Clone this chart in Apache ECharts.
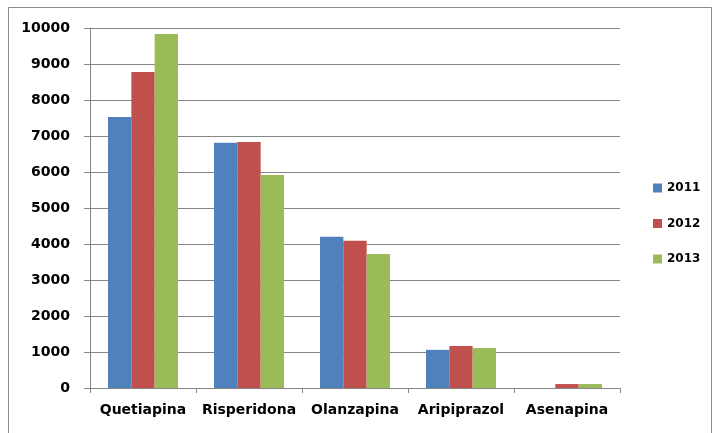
<!DOCTYPE html>
<html>
<head>
<meta charset="utf-8">
<script src="https://cdn.jsdelivr.net/npm/echarts@6/dist/echarts.min.js"></script>
<style>
  html, body { margin: 0; padding: 0; background: #fff; }
  #chart { width: 715px; height: 433px; }
</style>
</head>
<body>
<div id="chart"></div>
<script>
// Antipsychotic prescriptions per drug, by year
const categories = ['Quetiapina', 'Risperidona', 'Olanzapina', 'Aripiprazol', 'Asenapina'];
const years = ['2011', '2012', '2013'];
const values2011 = [7530, 6810, 4200, 1060, 0];
const values2012 = [8780, 6830, 4090, 1170, 110];
const values2013 = [9830, 5920, 3720, 1110, 110];
const yTicks = { min: 0, max: 10000, interval: 1000 };

const colors = ['#4F81BD', '#C0504D', '#9BBB59'];
const seriesValues = [values2011, values2012, values2013];
const axisFont = { fontFamily: 'DejaVu Sans', fontWeight: 'bold', fontSize: 14, color: '#000' };
const legendFont = { fontFamily: 'DejaVu Sans', fontWeight: 'bold', fontSize: 12, color: '#000' };

const chart = echarts.init(document.getElementById('chart'), null, { renderer: 'canvas' });
chart.setOption({
  animation: false,
  backgroundColor: '#fff',
  color: colors,
  graphic: [{
    type: 'rect',
    shape: { x: 8.5, y: 7.5, width: 703, height: 440 },
    style: { fill: 'none', stroke: '#8c8c8c', lineWidth: 1 },
    silent: true
  }],
  grid: { left: 90, right: 95, top: 28, bottom: 45, containLabel: false },
  legend: {
    orient: 'vertical',
    left: 648,
    top: 177,
    itemWidth: 9,
    itemHeight: 9,
    itemGap: 23.5,
    icon: 'rect',
    textStyle: legendFont,
    data: years
  },
  xAxis: {
    type: 'category',
    data: categories,
    axisLine: { lineStyle: { color: '#868686', width: 1 } },
    axisTick: { show: true, length: 5, lineStyle: { color: '#868686' } },
    axisLabel: Object.assign({}, axisFont, { margin: 15, interval: 0 }),
    splitLine: { show: false }
  },
  yAxis: {
    type: 'value',
    min: yTicks.min,
    max: yTicks.max,
    interval: yTicks.interval,
    axisLine: { show: true, lineStyle: { color: '#868686', width: 1 } },
    axisTick: { show: true, length: 6, lineStyle: { color: '#868686' } },
    axisLabel: Object.assign({}, axisFont, { margin: 20, formatter: v => String(v) }),
    splitLine: { show: true, lineStyle: { color: '#868686', width: 1 } }
  },
  series: years.map((y, i) => ({
    name: y,
    type: 'bar',
    data: seriesValues[i],
    barGap: '0%',
    barCategoryGap: '34%',
    itemStyle: { color: colors[i] }
  }))
});
</script>
</body>
</html>
